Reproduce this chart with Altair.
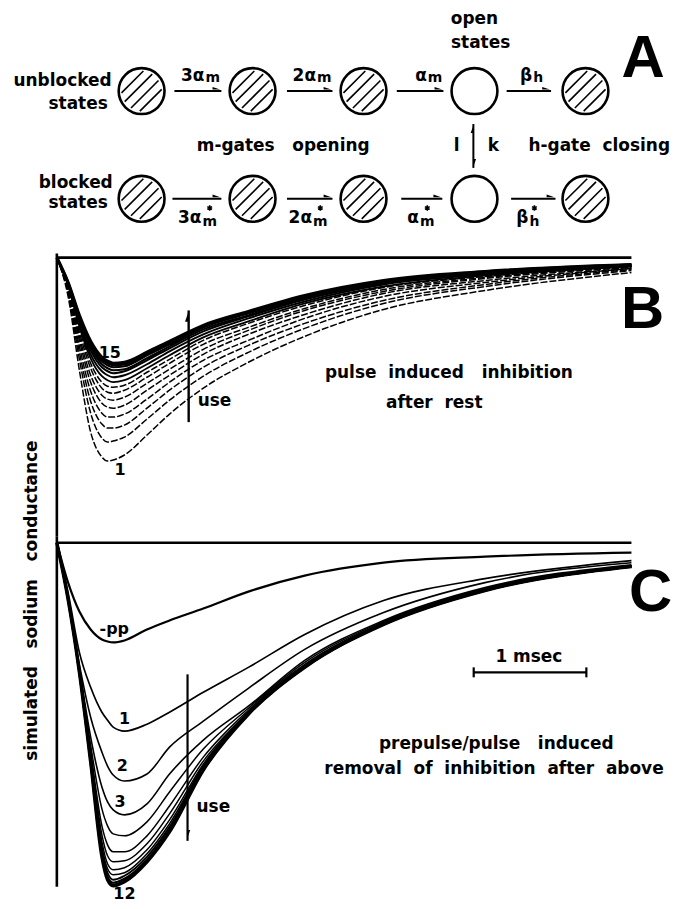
import math
import altair as alt
import pandas as pd

# ---------------- data ----------------
# time points (ms)
T = [0.0, 0.1, 0.2, 0.3, 0.4, 0.45, 0.5, 0.6, 0.8, 1.0, 1.3, 1.7, 2.2, 2.9, 3.8, 5.1]

# Panel B: simulated Na conductance (arb. units, inward = downward), pulses 1..15
B1  = [0, 39, 113, 175, 200, 204, 203, 198, 178, 157, 131, 105, 79, 52, 33, 15]
B2  = [0, 36, 102, 156, 181, 185, 184, 180, 162, 143, 119, 95, 71, 46, 29, 13]
B3  = [0, 34, 95, 144, 167, 171, 171, 168, 151, 133, 110, 88, 66, 43, 27, 12]
B4  = [0, 33, 89, 134, 156, 160, 160, 157, 142, 125, 103, 83, 61, 39, 25, 11]
B5  = [0, 31, 83, 125, 146, 150, 151, 148, 133, 118, 97, 77, 57, 36, 23, 11]
B6  = [0, 30, 79, 118, 138, 142, 143, 140, 126, 112, 92, 73, 53, 34, 21, 10]
B7  = [0, 29, 75, 111, 131, 135, 136, 133, 120, 106, 87, 70, 51, 32, 20, 9]
B8  = [0, 28, 71, 106, 125, 129, 130, 128, 115, 102, 83, 66, 48, 30, 19, 9]
B9  = [0, 28, 69, 101, 119, 123, 125, 123, 111, 98, 80, 64, 46, 29, 18, 9]
B10 = [0, 27, 66, 97, 114, 118, 120, 118, 107, 94, 77, 61, 44, 27, 17, 8]
B11 = [0, 26, 64, 93, 110, 114, 116, 114, 103, 91, 74, 59, 42, 26, 16, 8]
B12 = [0, 26, 62, 90, 107, 111, 113, 112, 101, 89, 72, 58, 41, 25, 15, 8]
B13 = [0, 26, 60, 88, 104, 108, 110, 109, 98, 87, 70, 56, 40, 24, 15, 7]
B14 = [0, 25, 59, 86, 102, 106, 108, 107, 97, 85, 69, 55, 39, 24, 14, 7]
B15 = [0, 25, 58, 84, 100, 104, 106, 105, 95, 84, 68, 54, 38, 23, 14, 7]
B_TRACES = [B1, B2, B3, B4, B5, B6, B7, B8, B9, B10, B11, B12, B13, B14, B15]

# Panel C: without prepulse (-pp) and prepulse/pulse 1..12
C_PP = [0, 40, 69, 87, 97, 99, 100, 98, 87, 78, 66, 49, 33, 20, 14, 10]
C1  = [0, 50, 110, 145, 170, 178, 185, 189, 182, 170, 150, 125, 92, 58, 36, 18]
C2  = [0, 55, 122, 175, 210, 224, 233, 239, 232, 205, 179, 146, 107, 70, 40, 20]
C3  = [0, 56, 126, 195, 245, 260, 268, 273, 262, 232, 198, 164, 118, 78, 45, 22]
C4  = [0, 56, 127, 203, 267, 284, 292, 294, 280, 250, 207, 166, 120, 79, 46, 23]
C5  = [0, 57, 128, 209, 284, 303, 310, 310, 294, 264, 215, 168, 122, 80, 47, 23]
C6  = [0, 57, 129, 212, 293, 314, 320, 319, 302, 272, 219, 170, 123, 81, 47, 23]
C7  = [0, 57, 129, 215, 300, 322, 328, 326, 308, 278, 222, 170, 124, 81, 47, 23]
C8  = [0, 57, 129, 217, 305, 327, 333, 331, 312, 282, 224, 171, 124, 81, 48, 24]
C9  = [0, 57, 130, 218, 309, 331, 338, 334, 315, 285, 225, 171, 124, 82, 48, 24]
C10 = [0, 57, 130, 219, 312, 335, 341, 337, 318, 288, 227, 172, 125, 82, 48, 24]
C11 = [0, 57, 130, 220, 314, 337, 343, 339, 319, 289, 228, 172, 125, 82, 48, 24]
C12 = [0, 57, 130, 220, 315, 338, 344, 340, 320, 290, 228, 172, 125, 82, 48, 24]
C_TRACES = [C1, C2, C3, C4, C5, C6, C7, C8, C9, C10, C11, C12]

T_END = 5.1           # end of the traces / baselines (ms)
USE_T_B = 1.17        # "use" arrow position, panel B
USE_T_C = 1.16        # "use" arrow position, panel C
SCALEBAR = [3.7, 4.7] # 1 msec bar

# Scheme A (kinetic diagram): states in 5 columns x 2 rows, column 3 = open state
STATE_COLS = [0, 1, 2, 3, 4]
STATE_ROWS = [0, 1]
OPEN_COL = 3
RATE = ["3α", "2α", "α", "β"]
RATE_SUB = ["m", "m", "m", "h"]

# ---------------- styling / layout ----------------
W = 665
FONT = "DejaVu Sans"
BIG = "Liberation Sans"
NB = "\u00a0"

XS = alt.Scale(domain=[-0.4336, 5.4513], nice=False, zero=False)
YSB = alt.Scale(domain=[-280, 19], nice=False, zero=False)
YSC = alt.Scale(domain=[-354, 6], nice=False, zero=False)
XA = alt.Scale(domain=[-1.204, 4.771], nice=False, zero=False)
YA = alt.Scale(domain=[-0.759, 1.370], nice=False, zero=False, reverse=True)
PX_COL = W / (4.771 + 1.204)
PX_ROW = 230 / (1.370 + 0.759)

BARB_R = "M-1,-0.7L1,0L-1,0Z"
BARB_UP = "M0,-1L-0.7,1L0,1Z"
BARB_DN = "M0,1L0.7,-1L0,-1Z"
ASTERISK = "M0,-1L0,1M-0.87,-0.5L0.87,0.5M-0.87,0.5L0.87,-0.5"


def enc(ch, xs, ys, x2=False, y2=False):
    e = dict(x=alt.X("x:Q", scale=xs, axis=None), y=alt.Y("y:Q", scale=ys, axis=None))
    if x2:
        e["x2"] = alt.X2("x2:Q")
    if y2:
        e["y2"] = alt.Y2("y2:Q")
    return ch.encode(**e)


def rules(rows, xs, ys, w, dash=None):
    df = pd.DataFrame(rows, columns=["x", "x2", "y", "y2"])
    kw = dict(color="black", strokeWidth=w)
    if dash:
        kw["strokeDash"] = dash
    return enc(alt.Chart(df).mark_rule(**kw), xs, ys, True, True)


def texts(rows, xs, ys, size, align="center", font=FONT, weight="bold", angle=0, baseline="middle"):
    df = pd.DataFrame(rows, columns=["label", "x", "y"])
    kw = dict(font=font, fontSize=size, fontWeight=weight, align=align,
              baseline=baseline, color="black")
    if angle:
        kw["angle"] = angle
    return enc(alt.Chart(df).mark_text(**kw), xs, ys).encode(text="label:N")


def points(rows, xs, ys, shape, size, filled=True, sw=1):
    df = pd.DataFrame(rows, columns=["x", "y"])
    return enc(alt.Chart(df).mark_point(shape=shape, size=size, filled=filled,
                                        color="black", opacity=1, strokeWidth=sw), xs, ys)


def traces(series, names, widths, ys, dash=None):
    recs = []
    for name, vals, w in zip(names, series, widths):
        for t, v in zip(T, vals):
            recs.append({"x": t, "y": -v, "curve": name, "w": w})
    df = pd.DataFrame(recs)
    kw = dict(color="black", interpolate="monotone")
    if dash:
        kw["strokeDash"] = dash
    return alt.Chart(df).mark_line(**kw).encode(
        x=alt.X("x:Q", scale=XS, axis=None),
        y=alt.Y("y:Q", scale=ys, axis=None),
        detail="curve:N",
        strokeWidth=alt.StrokeWidth("w:Q", scale=None),
    )


# ---------------- panel A ----------------
circ = [(c, r) for r in STATE_ROWS for c in STATE_COLS]
a_layers = [points(circ, XA, YA, "circle", 2116, filled=False, sw=2.6)]

hatch = []
R_IN = 21.0
for (c, r) in circ:
    if c == OPEN_COL:
        continue
    for d in (-13.0, -4.5, 4.5, 13.0):
        L = math.sqrt(R_IN ** 2 - d ** 2) - 1.0
        k = 1 / math.sqrt(2)
        x1, y1 = (d - L) * k, (d + L) * k
        x2, y2 = (d + L) * k, (d - L) * k
        hatch.append((c + x1 / PX_COL, c + x2 / PX_COL, r + y1 / PX_ROW, r + y2 / PX_ROW))
a_layers.append(rules(hatch, XA, YA, 1.6))

top_arrows = [(0.296, 0.719), (1.31, 1.72), (2.30, 2.72), (3.29, 3.69)]
bot_arrows = [(0.278, 0.719), (1.31, 1.72), (2.34, 2.71), (3.33, 3.73)]
arr = [(a, b, 0, 0) for a, b in top_arrows] + [(a, b, 1, 1) for a, b in bot_arrows]
a_layers.append(rules(arr, XA, YA, 2.0))
barbs = [(b - 5 / PX_COL, 0 - 1.5 / PX_ROW) for a, b in top_arrows] + \
        [(b - 5 / PX_COL, 1 - 1.5 / PX_ROW) for a, b in bot_arrows]
a_layers.append(points(barbs, XA, YA, BARB_R, 60))

# l / k vertical exchange arrow
a_layers.append(rules([(2.99, 2.99, 0.306, 0.713)], XA, YA, 2.0))
a_layers.append(points([(2.99, 0.306 + 5 / PX_ROW)], XA, YA, BARB_UP, 60))
a_layers.append(points([(2.99, 0.713 - 5 / PX_ROW)], XA, YA, BARB_DN, 60))

# rate labels (main symbol right of anchor, subscript left of anchor); blocked row has a star
top_anchor = [0.566, 1.572, 2.57, 3.52]
bot_anchor = [0.539, 1.536, 2.50, 3.486]
a_layers.append(texts([(t, x, -0.139) for t, x in zip(RATE, top_anchor)] +
                      [(t, x, 1.176) for t, x in zip(RATE, bot_anchor)], XA, YA, 17, "right"))
a_layers.append(texts([(t, x + 1 / PX_COL, -0.12) for t, x in zip(RATE_SUB, top_anchor)] +
                      [(t, x + 1 / PX_COL, 1.215) for t, x in zip(RATE_SUB, bot_anchor)], XA, YA, 14, "left"))
sub_center = {"m": 8.3, "h": 6.0}
a_layers.append(points([(x + sub_center[t] / PX_COL, 1.085) for t, x in zip(RATE_SUB, bot_anchor)],
                       XA, YA, ASTERISK, 30, filled=False, sw=1.6))

a_layers.append(texts([("unblocked", -0.27, -0.093), ("states", -0.305, 0.12),
                       ("blocked", -0.26, 0.852), ("states", -0.305, 1.037),
                       ("h-gate" + NB * 2 + "closing", 4.762, 0.509)], XA, YA, 17, "right"))
a_layers.append(texts([("open", 3.0, -0.667), ("states", 3.055, -0.444),
                       ("m-gates" + NB * 3 + "opening", 1.276, 0.509),
                       ("l", 2.84, 0.509), ("k", 3.17, 0.509)], XA, YA, 17, "center"))
a_layers.append(texts([("A", 4.52, -0.30)], XA, YA, 60, "center", font=BIG))

panel_a = alt.layer(*a_layers).properties(width=W, height=230)

# ---------------- panel B ----------------
b_names = [f"B{i}" for i in range(1, 16)]
b_w = [1.5] * 8 + [1.8, 1.9, 2.0, 2.1, 2.2, 2.4, 3.2]
b_layers = [
    rules([(0, T_END, 0, 0)], XS, YSB, 2.6),
    rules([(0, 0, 4, -280)], XS, YSB, 2.6),
    traces(B_TRACES[:8], b_names[:8], b_w[:8], YSB, dash=[7, 2]),
    traces(B_TRACES[8:], b_names[8:], b_w[8:], YSB),
    rules([(USE_T_B, USE_T_B, -53, -165)], XS, YSB, 2.4),
    points([(USE_T_B, -59)], XS, YSB, BARB_UP, 110),
    texts([("15", 0.47, -96), ("1", 0.56, -213)], XS, YSB, 16),
    texts([("use", 1.25, -144)], XS, YSB, 17, "left"),
    texts([("pulse" + NB * 2 + "induced" + NB * 3 + "inhibition", 3.48, -116),
           ("after" + NB * 2 + "rest", 3.35, -146)], XS, YSB, 17),
    texts([("B", 5.2, -53)], XS, YSB, 60, font=BIG),
]
panel_b = alt.layer(*b_layers).properties(width=W, height=299)

# ---------------- panel C ----------------
c_names = [f"C{i}" for i in range(1, 13)]
c_w = [1.7, 1.6, 1.6, 1.5, 1.5, 1.5, 1.5, 1.6, 1.9, 2.1, 2.4, 3.4]
c_layers = [
    rules([(0, T_END, 0, 0)], XS, YSC, 2.6),
    rules([(0, 0, 6, -345)], XS, YSC, 2.6),
    traces([C_PP], ["pp"], [2.2], YSC),
    traces(C_TRACES, c_names, c_w, YSC),
    rules([(USE_T_C, USE_T_C, -132, -299)], XS, YSC, 2.2),
    points([(USE_T_C, -292)], XS, YSC, BARB_DN, 60),
    rules([(SCALEBAR[0], SCALEBAR[1], -130, -130)], XS, YSC, 2.2),
    rules([(SCALEBAR[0], SCALEBAR[0], -125, -135), (SCALEBAR[1], SCALEBAR[1], -125, -135)], XS, YSC, 2.2),
    texts([("-pp", 0.51, -87), ("1", 0.6, -177), ("2", 0.58, -224), ("3", 0.56, -260),
           ("12", 0.6, -352)], XS, YSC, 16),
    texts([("use", 1.24, -265)], XS, YSC, 17, "left"),
    texts([("1" + NB + "msec", 4.19, -115),
           ("prepulse/pulse" + NB * 3 + "induced", 3.9, -202),
           ("removal" + NB * 2 + "of" + NB * 2 + "inhibition" + NB * 2 + "after" + NB * 2 + "above", 3.88, -227)],
          XS, YSC, 17),
    texts([("C", 5.27, -50)], XS, YSC, 60, font=BIG),
    texts([("simulated" + NB * 3 + "sodium" + NB * 3 + "conductance", -0.22, -58)], XS, YSC, 17, angle=270),
]
panel_c = alt.layer(*c_layers).properties(width=W, height=360)

chart = alt.vconcat(panel_a, panel_b, panel_c, spacing=0, bounds="flush").properties(
    padding=0, background="white"
).configure_view(stroke=None)

chart.save("out.html", embed_options={"renderer": "svg", "actions": False})
